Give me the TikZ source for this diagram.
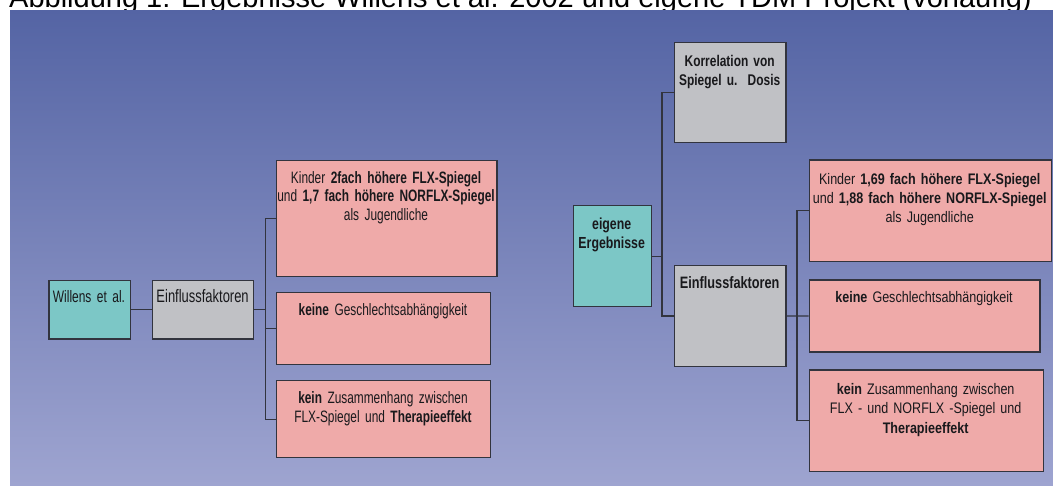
\documentclass[tikz,border=0pt]{standalone}
\usepackage{fontspec}
\setmainfont{Liberation Sans}
\newfontfamily\nl{Liberation Sans}[FakeStretch=0.72]
\newfontfamily\nh{Liberation Sans}[FakeStretch=0.77]
\newfontfamily\nr{Liberation Sans}[FakeStretch=0.82]
\definecolor{bgtop}{RGB}{84,100,164}
\definecolor{bgbot}{RGB}{158,164,208}
\definecolor{tealc}{RGB}{124,199,198}
\definecolor{grayc}{RGB}{192,193,197}
\definecolor{pinkc}{RGB}{239,170,169}
\definecolor{linec}{RGB}{50,52,62}
\definecolor{txtc}{RGB}{25,25,28}
\begin{document}
\begin{tikzpicture}[x=1pt,y=-1pt,
  box/.style={draw=linec, line width=1.2pt, anchor=north west, inner sep=0pt},
  tealbox/.style={box, fill=tealc},
  graybox/.style={box, fill=grayc},
  pinkbox/.style={box, fill=pinkc},
  txt/.style={anchor=base, inner sep=0pt, text=txtc, align=center, text width=260pt},
  ltxt/.style={txt, font=\nl\fontsize{16.5}{18.5}\selectfont},
  htxt/.style={txt, font=\nh\bfseries\fontsize{16}{19.5}\selectfont},
  rtxt/.style={txt, font=\nr\fontsize{15.3}{19.4}\selectfont},
  conn/.style={draw=linec, line width=1.2pt}]
\useasboundingbox (0,0) rectangle (1053,485);
\clip (0,0) rectangle (1053,485);
\fill[white] (0,0) rectangle (1053,485);
\node[anchor=base west, inner sep=0pt, font=\fontsize{29}{35}\selectfont] (title) at (9,7.3)
  {Abbildung 1: Ergebnisse Willens et al. 2002 und eigene TDM Projekt (vorläufig)};
\shade[top color=bgtop, bottom color=bgbot] (10,10) rectangle (1053,485);

% left boxes
\node[tealbox, minimum width=81.5pt, minimum height=58.8pt] (wil) at (48.3,279.5) {};
\node[graybox, minimum width=101.7pt, minimum height=58.8pt] (einL) at (151.5,279.5) {};
\node[pinkbox, minimum width=220.1pt, minimum height=116pt] (pL1) at (276.2,159.8) {};
\node[pinkbox, minimum width=213.3pt, minimum height=71.7pt] (pL2) at (276.2,292) {};
\node[pinkbox, minimum width=213.3pt, minimum height=77pt] (pL3) at (276.2,380) {};

% right boxes
\node[graybox, minimum width=111.3pt, minimum height=100.3pt] (korr) at (674,41.7) {};
\node[tealbox, minimum width=78pt, minimum height=101pt] (eig) at (572.7,205) {};
\node[graybox, minimum width=111.3pt, minimum height=101.3pt] (einR) at (674,264.7) {};
\node[pinkbox, minimum width=242pt, minimum height=101.7pt] (pR1) at (808.7,159.3) {};
\node[pinkbox, minimum width=230.6pt, minimum height=72.1pt] (pR2) at (808.7,279.3) {};
\node[pinkbox, minimum width=234pt, minimum height=101.7pt] (pR3) at (808.7,369.3) {};

% connectors left
\coordinate (tL) at ([xshift=-11pt]pL1.west);
\draw[conn] (wil.east) -- (einL.west);
\draw[conn] (einL.east) -- (einL.east -| tL);
\draw[conn] (pL1.west) -- (tL) -- (tL |- pL3.west) -- (pL3.west);
\draw[conn] (pL2.west) -- (pL2.west -| tL);

% connectors right
\coordinate (tR) at ([xshift=-12pt]korr.west);
\draw[conn] (eig.east) -- (eig.east -| tR);
\draw[conn] (korr.west) -- (tR) -- (tR |- einR.west) -- (einR.west);
\coordinate (tR2) at ([xshift=-11.7pt]pR1.west);
\draw[conn] (einR.east) -- (pR2.west);
\draw[conn] (pR1.west) -- (tR2) -- (tR2 |- pR3.west) -- (pR3.west);

% left texts
\node[ltxt, font=\nl\fontsize{16.6}{20}\selectfont] (wilT) at (89,302) {Willens et al.};
\node[ltxt, font=\nl\fontsize{18}{20}\selectfont] (einLT) at (202.6,302) {Einflussfaktoren};
\node[ltxt] (pL1T) at (386,183) {Kinder {\bfseries 2fach höhere FLX-Spiegel}\\und {\bfseries 1,7 fach höhere NORFLX-Spiegel}\\als Jugendliche};
\node[ltxt] (pL2T) at (383,315.6) {{\bfseries keine} Geschlechtsabhängigkeit};
\node[ltxt] (pL3T) at (383,403.5) {{\bfseries kein} Zusammenhang zwischen\\FLX-Spiegel und {\bfseries Therapieeffekt}};

% right texts
\node[htxt, font=\nh\bfseries\fontsize{15.5}{18.3}\selectfont] (korrT) at (729.7,66.7) {Korrelation von\\Spiegel u.\ \ Dosis};
\node[htxt] (eigT) at (611.7,229.3) {eigene\\Ergebnisse};
\node[htxt, font=\nh\bfseries\fontsize{16.5}{19.5}\selectfont] (einRT) at (729.7,288.3) {Einflussfaktoren};
\node[rtxt] (pR1T) at (929.7,184) {Kinder {\bfseries 1,69 fach höhere FLX-Spiegel}\\und {\bfseries 1,88 fach höhere NORFLX-Spiegel}\\als Jugendliche};
\node[rtxt] (pR2T) at (924,302.7) {{\bfseries keine} Geschlechtsabhängigkeit};
\node[rtxt] (pR3T) at (925.7,394.3) {{\bfseries kein} Zusammenhang zwischen\\FLX - und NORFLX -Spiegel und\\{\bfseries Therapieeffekt}};
\end{tikzpicture}
\end{document}
